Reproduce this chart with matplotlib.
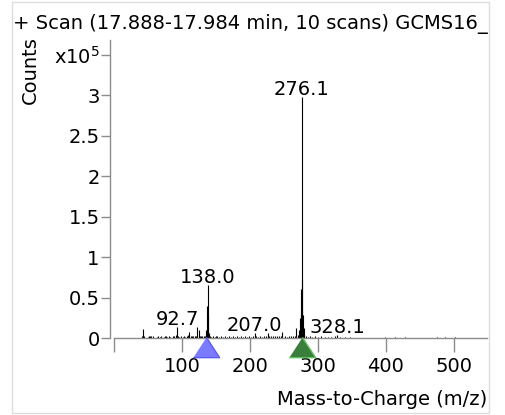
import matplotlib
matplotlib.use("Agg")
import matplotlib.pyplot as plt
import matplotlib.transforms as mtransforms
from matplotlib.patches import Rectangle
from matplotlib.transforms import Bbox

# ---- data (intensity in units of 1e5 counts) ----
peak_mz = [41, 42, 43, 44, 50, 51, 53, 55, 57, 63, 65, 67, 69, 74, 75, 77, 78, 81, 83, 87,
           89, 91, 92.7, 94, 96, 98, 101, 103, 105, 107, 109, 111, 113, 115, 117, 119, 121,
           122.6, 124.6, 126, 128, 130, 132, 134, 136, 137, 138.0, 139, 140, 141, 143, 145,
           148, 150, 152, 155, 158, 161, 163, 166, 169, 172, 175, 178, 181, 184, 187, 190,
           193, 196, 199, 202, 205, 207.0, 209, 212, 215, 218, 221, 224, 226, 228, 231, 234,
           237, 240, 243, 246, 248, 251, 254, 257, 260, 263, 266, 268.5, 271, 273, 274, 275,
           275.6, 276.1, 276.6, 277, 278, 279, 280, 282, 285, 289, 292, 296, 300, 305, 310,
           315, 320, 325, 328.1, 332, 340, 348, 399, 413, 428, 475, 487, 502]
peak_int = [0.03, 0.02, 0.11, 0.02, 0.01, 0.02, 0.02, 0.03, 0.02, 0.015, 0.02, 0.015, 0.03,
            0.015, 0.02, 0.03, 0.015, 0.02, 0.015, 0.02, 0.03, 0.04, 0.13, 0.02, 0.015, 0.02,
            0.015, 0.02, 0.015, 0.02, 0.04, 0.07, 0.02, 0.03, 0.02, 0.02, 0.03, 0.14, 0.10,
            0.02, 0.03, 0.02, 0.02, 0.03, 0.10, 0.40, 0.65, 0.28, 0.06, 0.02, 0.015, 0.02,
            0.015, 0.02, 0.02, 0.015, 0.02, 0.015, 0.02, 0.015, 0.02, 0.015, 0.02, 0.015,
            0.02, 0.015, 0.02, 0.015, 0.02, 0.015, 0.02, 0.015, 0.02, 0.06, 0.02, 0.015, 0.02,
            0.015, 0.02, 0.02, 0.06, 0.02, 0.02, 0.03, 0.02, 0.02, 0.02, 0.03, 0.07, 0.02,
            0.015, 0.02, 0.02, 0.02, 0.03, 0.12, 0.04, 0.10, 0.25, 0.30, 0.60, 2.97, 0.72,
            0.32, 0.28, 0.12, 0.05, 0.02, 0.015, 0.02, 0.015, 0.02, 0.015, 0.02, 0.015, 0.015,
            0.015, 0.02, 0.04, 0.01, 0.01, 0.01, 0.01, 0.01, 0.01, 0.01, 0.01, 0.01]

label_mz = [92.7, 138.0, 207.0, 276.1, 328.1]
label_text = ["92.7", "138.0", "207.0", "276.1", "328.1"]

marker_mz = [136.0, 276.1]
marker_fill = ["#7b7bff", "#3b7d3b"]
marker_edge = ["#5c5cf0", "#5fc25f"]

x_ticks = [0, 100, 200, 300, 400, 500]
x_ticklabels = ["", "100", "200", "300", "400", "500"]
y_ticks = [0, 0.5, 1, 1.5, 2, 2.5, 3, 3.5]
y_ticklabels = ["0", "0.5", "1", "1.5", "2", "2.5", "3", r"x10$^{5}$"]

title = "+ Scan (17.888-17.984 min, 10 scans) GCMS16_"
xlabel = "Mass-to-Charge (m/z)"
ylabel = "Counts"

# ---- figure ----
W, H = 506, 415
fig = plt.figure(figsize=(W / 100, H / 100), dpi=100)
fs = 14
plt.rcParams["font.family"] = ["DejaVu Sans"]

ax_left, ax_right = 114, 487
ax_top, ax_bottom = 40, 338
ax = fig.add_axes([ax_left / W, 1 - ax_bottom / H, (ax_right - ax_left) / W, (ax_bottom - ax_top) / H])
ax.set_xlim(0, 549)
ax.set_ylim(0, 3.68)

ax.vlines(peak_mz, 0, peak_int, color="black", lw=0.8)

lookup = dict(zip(peak_mz, peak_int))
for m, t in zip(label_mz, label_text):
    ax.annotate(t, xy=(m, lookup[m]), xytext=(0, 1.5), textcoords="offset points",
                ha="center", va="baseline", fontsize=fs, color="black")

for sp in ["top", "right"]:
    ax.spines[sp].set_visible(False)
ax.spines["left"].set_position(("outward", 2.9))
for sp in ["left", "bottom"]:
    ax.spines[sp].set_color("#8c8c8c")
    ax.spines[sp].set_linewidth(1.0)

ax.set_xticks(x_ticks)
ax.set_xticklabels(x_ticklabels)
ax.set_yticks(y_ticks)
ax.set_yticklabels(y_ticklabels)
ax.tick_params(axis="x", direction="out", length=10, width=1.0, color="#8c8c8c",
               pad=4, labelsize=fs)
ax.tick_params(axis="y", direction="out", length=6.5, width=1.0, color="#8c8c8c",
               pad=1, labelsize=fs)

# triangle markers below the axis
tri = [(-13, -20), (13, -20), (0, 0)]
blend = mtransforms.blended_transform_factory(ax.transData, ax.transAxes)
for m, fc, ec in zip(marker_mz, marker_fill, marker_edge):
    ax.plot([m], [0.005], marker=tri, markersize=29, markerfacecolor=fc,
            markeredgecolor=ec, markeredgewidth=1.0, transform=blend, clip_on=False,
            linestyle="none", zorder=5)

# texts
t = fig.text(13 / W, 1 - 29 / H, title, ha="left", va="baseline", fontsize=fs)
t.set_clip_box(Bbox.from_extents(0, 0, 489.5, H))
t.set_clip_on(True)
fig.text(30 / W, 1 - 70 / H, ylabel, rotation=90, ha="center", va="center", fontsize=fs)
fig.text(487 / W, 1 - 399 / H, xlabel, ha="right", va="center", fontsize=fs)

# light frame
fig.patches.append(Rectangle((12.5 / W, 2.5 / H), (489.5 - 12.5) / W, (412.5 - 2.5) / H,
                             transform=fig.transFigure, fill=False, edgecolor="#dddddd",
                             lw=1.0))

fig.savefig("out.png", dpi=100)
